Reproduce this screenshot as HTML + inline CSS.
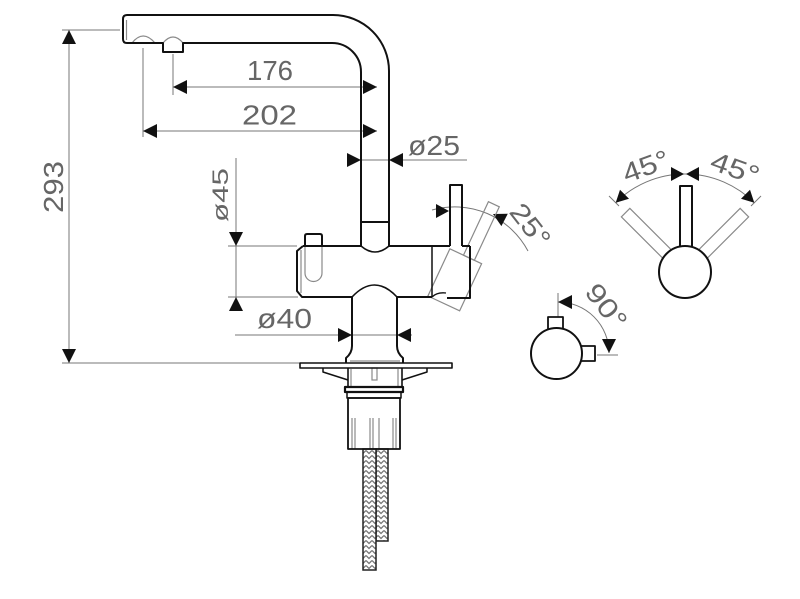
<!DOCTYPE html>
<html><head><meta charset="utf-8"><style>
html,body{margin:0;padding:0;background:#fff;}
svg{display:block;}
text{font-family:"Liberation Sans",sans-serif;fill:#666;}
</style></head><body>
<svg width="800" height="599" viewBox="0 0 800 599" xmlns="http://www.w3.org/2000/svg">
<defs>
<pattern id="h" width="6" height="5" patternUnits="userSpaceOnUse">
<rect width="6" height="5" fill="#fff"/>
<path d="M0 0.5 L3 3.5 L6 0.5" fill="none" stroke="#777" stroke-width="1.3"/>
</pattern>
</defs>

<!-- ===== dimension lines (gray) ===== -->
<g stroke="#777" stroke-width="1" fill="none">
  <!-- 293 -->
  <line x1="62" y1="30" x2="120" y2="30"/>
  <line x1="62" y1="363" x2="300" y2="363"/>
  <line x1="69" y1="30" x2="69" y2="363"/>
  <!-- 176 -->
  <line x1="173" y1="54" x2="173" y2="95"/>
  <line x1="173" y1="87" x2="377" y2="87"/>
  <!-- 202 -->
  <line x1="143" y1="48" x2="143" y2="137"/>
  <line x1="143" y1="131" x2="377" y2="131"/>
  <!-- ø25 -->
  <line x1="361" y1="160" x2="467" y2="160"/>
  <!-- ø45 -->
  <line x1="236" y1="158" x2="236" y2="311"/>
  <line x1="228" y1="246" x2="297" y2="246"/>
  <line x1="228" y1="297" x2="298" y2="297"/>
  <!-- ø40 -->
  <line x1="235" y1="335" x2="412" y2="335"/>
  <!-- 25 deg arc -->
  <path d="M432 210 A83 83 0 0 1 528 251"/>
  <!-- 45/45 arc -->
  <path d="M615.7 202.7 A98 98 0 0 1 754.3 202.7"/>
  <line x1="619" y1="206" x2="609" y2="196"/>
  <line x1="751" y1="206" x2="761" y2="196"/>
  <!-- 90 arc -->
  <path d="M558 302 A51 51 0 0 1 609 353"/>
  <line x1="558" y1="293" x2="558" y2="318"/>
  <line x1="597" y1="355" x2="618" y2="355"/>
</g>

<!-- ===== arrowheads ===== -->
<g fill="#111" stroke="none">
  <!-- 293 -->
  <polygon points="69,30 62,44 76,44"/>
  <polygon points="69,363 62,349 76,349"/>
  <!-- 176 -->
  <polygon points="173,87 187,80 187,94"/>
  <polygon points="377,87 363,80 363,94"/>
  <!-- 202 -->
  <polygon points="143,131 157,124 157,138"/>
  <polygon points="377,131 363,124 363,138"/>
  <!-- ø25 -->
  <polygon points="361,160 347,153 347,167"/>
  <polygon points="389,160 403,153 403,167"/>
  <!-- ø45 -->
  <polygon points="236,246 229,232 243,232"/>
  <polygon points="236,297 229,311 243,311"/>
  <!-- ø40 -->
  <polygon points="352,335 338,328 338,342"/>
  <polygon points="397,335 411,328 411,342"/>
  <!-- 25 deg -->
  <polygon points="449,211 436,204 436,218"/>
  <polygon points="493,214 507.8,213.7 501.4,226.1"/>
  <!-- 45/45 -->
  <polygon points="684,174 671,167 671,181"/>
  <polygon points="686,174 699,167 699,181"/>
  <polygon points="615.7,202.7 629,198.7 620,189.7"/>
  <polygon points="754.3,202.7 741,198.7 750,189.7"/>
  <!-- 90 -->
  <polygon points="558,302 572,295 572,309"/>
  <polygon points="609,353 602,339 616,339"/>
</g>

<!-- ===== light detail lines ===== -->
<g stroke="#8a8a8a" stroke-width="1.2" fill="none">
  <line x1="126.5" y1="20" x2="126.5" y2="40"/>
  <path d="M132 43 Q143 29 155 43"/>
  <path d="M163 43 Q173 31 183 43"/>
  <path d="M305 246 L305 273 A8.5 8.5 0 0 0 322 273 L322 246"/>
  <line x1="301" y1="250" x2="301" y2="293"/>
  <!-- tilted lever & cartridge -->
  <g transform="rotate(25 436 281)">
    <rect x="450" y="187" width="12" height="59"/>
    <rect x="435" y="246" width="35" height="52"/>
  </g>
  <!-- tilted levers 45 -->
  <g transform="rotate(-45 685 272)"><rect x="679" y="188" width="12" height="60"/></g>
  <g transform="rotate(45 685 272)"><rect x="679" y="188" width="12" height="60"/></g>
  <!-- base details -->
  <line x1="350" y1="361" x2="400" y2="361"/>
  <line x1="351" y1="369" x2="351" y2="387"/>
  <line x1="398" y1="369" x2="398" y2="387"/>
  <rect x="372" y="368" width="5" height="12"/>
  <line x1="352" y1="418" x2="352" y2="449"/>
  <line x1="355" y1="418" x2="355" y2="449"/>
  <line x1="370" y1="418" x2="370" y2="449"/>
  <line x1="373" y1="418" x2="373" y2="449"/>
  <line x1="379" y1="418" x2="379" y2="449"/>
  <line x1="393" y1="418" x2="393" y2="449"/>
  <line x1="396" y1="418" x2="396" y2="449"/>
</g>

<!-- ===== hoses ===== -->
<rect x="376" y="449" width="12" height="92" fill="url(#h)" stroke="#222" stroke-width="1.5"/>
<rect x="363" y="449" width="13" height="121" fill="url(#h)" stroke="#222" stroke-width="1.5"/>

<!-- ===== main outlines ===== -->
<g fill="none" stroke="#111" stroke-width="2" stroke-linejoin="round">
  <path d="M361 246 L361 72 A29 29 0 0 0 332 43 L183 43 L183 52 L163 52 L163 43 L127 43 Q123 43 123 39 L123 19 Q123 15 127 15 L333 15 A56 56 0 0 1 389 71 L389 246"/>
  <line x1="361" y1="222" x2="389" y2="222"/>
  <path d="M303 246 L361 246"/>
  <path d="M389 246 L450 246"/>
  <path d="M462 246 L470 246"/>
  <path d="M361 246 Q375 258 389 246" stroke-width="1.5"/>
  <path d="M303 246 L297 251 L297 291 L302 297 L352 297"/>
  <path d="M352 297 Q374.5 273 397 297" stroke-width="1.6"/>
  <path d="M397 297 L432 297"/>
  <line x1="432" y1="246" x2="432" y2="297" stroke-width="1.5"/>
  <path d="M470 246 L470 298 L447 298"/>
  <path d="M432 297 Q437 292 446 293" stroke-width="1.3"/>
  <path d="M450 246 L450 185 L462 185 L462 246"/>
  <path d="M305 246 L305 236 Q305 234 307 234 L320 234 Q322 234 322 236 L322 246"/>
  <!-- stem -->
  <path d="M352 297 L352 346 Q352 353 346 358 L346 363"/>
  <path d="M397 297 L397 346 Q397 353 403 358 L403 363"/>
  <!-- plate -->
  <rect x="300" y="363" width="152" height="5" stroke-width="1.6"/>
  <path d="M323 368 L323 372 L348 380" stroke-width="1.5"/>
  <path d="M427 368 L427 372 L402 380" stroke-width="1.5"/>
  <line x1="348" y1="368" x2="348" y2="387" stroke-width="1.6"/>
  <line x1="402" y1="368" x2="402" y2="387" stroke-width="1.6"/>
  <rect x="345" y="387" width="58" height="5" stroke-width="2.2"/>
  <path d="M347 392 L347 398 L401 398 L401 392" stroke-width="1.5"/>
  <rect x="348" y="398" width="52" height="51" stroke-width="1.8"/>
  <!-- 45/45 view -->
  <rect x="680" y="186" width="12" height="62" fill="#fff"/>
  <circle cx="685" cy="272" r="26" fill="#fff"/>
  <!-- 90 view -->
  <rect x="548" y="317" width="15" height="12" fill="#fff" stroke-width="1.8"/>
  <rect x="579" y="346" width="16" height="15" fill="#fff" stroke-width="1.8"/>
  <circle cx="556.5" cy="353.5" r="25.5" fill="#fff"/>
</g>

<!-- ===== labels ===== -->
<text x="270" y="80" font-size="28" text-anchor="middle" textLength="46" lengthAdjust="spacingAndGlyphs">176</text>
<text x="269.5" y="124.5" font-size="28" text-anchor="middle" textLength="55" lengthAdjust="spacingAndGlyphs">202</text>
<text x="434" y="155" font-size="28" text-anchor="middle" textLength="52" lengthAdjust="spacingAndGlyphs">ø25</text>
<text x="284.5" y="328" font-size="28" text-anchor="middle" textLength="55" lengthAdjust="spacingAndGlyphs">ø40</text>
<text transform="translate(63 187) rotate(-90)" font-size="28" text-anchor="middle" textLength="52" lengthAdjust="spacingAndGlyphs">293</text>
<text transform="translate(228 195) rotate(-90)" font-size="22" text-anchor="middle" textLength="54" lengthAdjust="spacingAndGlyphs">ø45</text>
<text transform="translate(523 231) rotate(52)" font-size="27" text-anchor="middle" textLength="48" lengthAdjust="spacingAndGlyphs">25°</text>
<text transform="translate(599 312) rotate(52)" font-size="27" text-anchor="middle" textLength="50" lengthAdjust="spacingAndGlyphs">90°</text>
<text transform="translate(649 175) rotate(-20)" font-size="27" text-anchor="middle" textLength="48" lengthAdjust="spacingAndGlyphs">45°</text>
<text transform="translate(732 177) rotate(20)" font-size="27" text-anchor="middle" textLength="50" lengthAdjust="spacingAndGlyphs">45°</text>
</svg>
</body></html>
